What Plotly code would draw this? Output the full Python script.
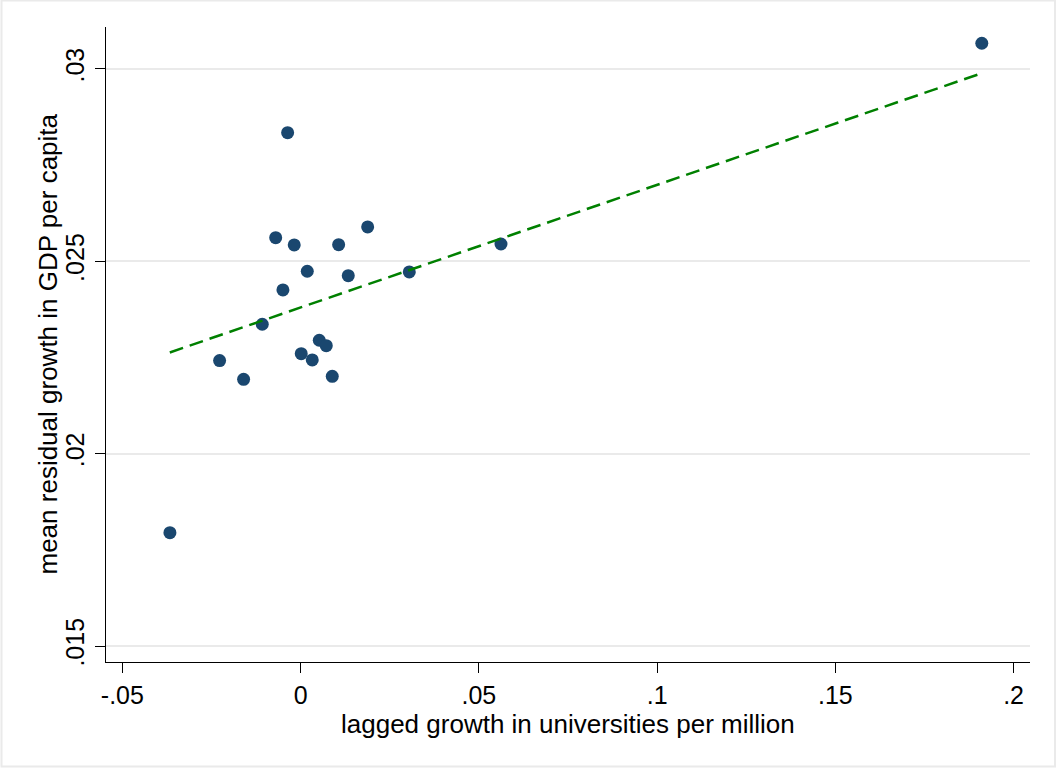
import plotly.graph_objects as go

# Data
growth_univ = [-0.00365, -0.0070, -0.0018, 0.01066, 0.0188, 0.00186, 0.01336, 0.03048,
               -0.00497, -0.01077, 0.00523, 0.00719, 0.00017, 0.00326, -0.02273, -0.0160,
               0.00887, 0.0562, -0.03667, 0.19108]
resid_gdp = [0.028344, 0.025614, 0.025425, 0.025433, 0.025893, 0.024741, 0.024627, 0.024723,
             0.024255, 0.023363, 0.022947, 0.022807, 0.022599, 0.022435, 0.022418, 0.021933,
             0.022011, 0.025450, 0.017946, 0.030668]
fit_x = [-0.0367, 0.1911]
fit_y = [0.02263, 0.02989]

x_ticks = [-0.05, 0, 0.05, 0.1, 0.15, 0.2]
x_ticklabels = ["-.05", "0", ".05", ".1", ".15", ".2"]
y_ticks = [0.015, 0.02, 0.025, 0.03]
y_ticklabels = [".015", ".02", ".025", ".03"]

x_title = "lagged growth in universities per million"
y_title = "mean residual growth in GDP per capita"

FONT = "Liberation Sans, Arial, Helvetica, sans-serif"
TICK_FS = 25
TITLE_FS = 26

# plot-area geometry in pixels
L, R, T, B = 106, 1030, 27, 662
W, H = 1056, 769
PW, PH = R - L, B - T

fig = go.Figure()
fig.add_trace(go.Scatter(
    x=growth_univ, y=resid_gdp, mode="markers",
    marker=dict(size=13, color="#1a476f", line=dict(width=0)),
    showlegend=False, hoverinfo="x+y"))
fig.add_trace(go.Scatter(
    x=fit_x, y=fit_y, mode="lines",
    line=dict(color="#008000", width=2.5, dash="14px,7px"),
    showlegend=False))

fig.update_layout(
    width=W, height=H,
    margin=dict(l=L, r=W - R, t=T, b=H - B),
    paper_bgcolor="white", plot_bgcolor="white",
    font=dict(family=FONT, size=TICK_FS, color="black"),
    xaxis=dict(
        range=[-0.0546, 0.2046], tickvals=x_ticks, ticktext=x_ticklabels,
        showgrid=False, zeroline=False, showline=True, linecolor="black", linewidth=1.2,
        ticks="outside", ticklen=10, tickwidth=1.2, tickcolor="black",
        tickfont=dict(family=FONT, size=TICK_FS, color="black"), ticklabelstandoff=1,
    ),
    yaxis=dict(
        range=[0.014584, 0.03109], tickvals=y_ticks, ticktext=y_ticklabels,
        showgrid=True, gridcolor="#eaeaea", gridwidth=2, zeroline=False,
        showline=True, linecolor="black", linewidth=1.2,
        ticks="outside", ticklen=10, tickwidth=1.2, tickcolor="black", tickangle=-90,
        tickfont=dict(family=FONT, size=TICK_FS, color="black"), ticklabelstandoff=1,
    ),
    annotations=[
        dict(text=x_title, xref="paper", yref="paper", x=0.5, y=0, yshift=-62,
             xanchor="center", yanchor="middle", showarrow=False,
             font=dict(family=FONT, size=TITLE_FS, color="black")),
        dict(text=y_title, xref="paper", yref="paper", x=0, y=0.5, xshift=-59,
             xanchor="center", yanchor="middle", textangle=-90, showarrow=False,
             font=dict(family=FONT, size=TITLE_FS, color="black")),
    ],
    shapes=[
        dict(type="rect", xref="paper", yref="paper",
             x0=(1.5 - L) / PW, x1=(1055 - L) / PW,
             y0=(B - 766.5) / PH, y1=(B - 0.5) / PH,
             line=dict(color="#eaeaea", width=2), fillcolor="rgba(0,0,0,0)", layer="below"),
    ],
)

fig.write_html("out.html", config={"displayModeBar": False},
               post_script="document.body.style.margin='0px';")
